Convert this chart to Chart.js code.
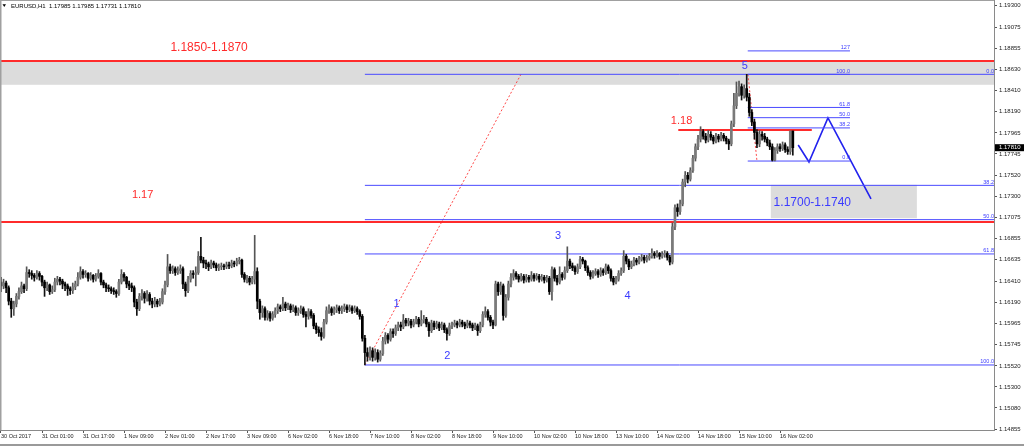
<!DOCTYPE html>
<html>
<head>
<meta charset="utf-8">
<script src="https://cdn.jsdelivr.net/npm/chart.js@4"></script>
<style>
html, body { margin: 0; padding: 0; background: #fff; overflow: hidden; }
#wrap { position: relative; width: 1024px; height: 446px; }
</style>
</head>
<body>
<div id="wrap"><canvas id="c"></canvas></div>
<script>
const symbol = 'EURUSD,H1';

const tickLabels = ['30 Oct 2017', '31 Oct 01:00', '31 Oct 17:00', '1 Nov 09:00', '2 Nov 01:00', '2 Nov 17:00',
    '3 Nov 09:00', '6 Nov 02:00', '6 Nov 18:00', '7 Nov 10:00', '8 Nov 02:00', '8 Nov 18:00', '9 Nov 10:00',
    '10 Nov 02:00', '10 Nov 18:00', '13 Nov 10:00', '14 Nov 02:00', '14 Nov 18:00', '15 Nov 10:00', '16 Nov 02:00'];

const priceTicks = [1.19300, 1.19075, 1.18855, 1.18630, 1.18410, 1.18190, 1.17965, 1.17745, 1.17520, 1.17300,
    1.17075, 1.16855, 1.16635, 1.16410, 1.16190, 1.15965, 1.15745, 1.15520, 1.15300, 1.15080, 1.14855];

// hourly candles, 30 Oct 09:00 .. 16 Nov 05:00
const opens = [
    1.1640, 1.1636, 1.1639, 1.1634, 1.1620, 1.1612, 1.1617, 1.1625, 1.1630, 1.1636,
    1.1633, 1.1650, 1.1649, 1.1647, 1.1645, 1.1649, 1.1646, 1.1640, 1.1634, 1.1637,
    1.1630, 1.1632, 1.1640, 1.1643, 1.1641, 1.1638, 1.1636, 1.1633, 1.1631, 1.1635,
    1.1638, 1.1645, 1.1651, 1.1648, 1.1649, 1.1644, 1.1647, 1.1643, 1.1646, 1.1649,
    1.1640, 1.1637, 1.1634, 1.1633, 1.1631, 1.1630, 1.1628, 1.1640, 1.1648, 1.1645,
    1.1638, 1.1636, 1.1634, 1.1619, 1.1612, 1.1625, 1.1628, 1.1623, 1.1627, 1.1620,
    1.1617, 1.1620, 1.1617, 1.1619, 1.1630, 1.1637, 1.1656, 1.1652, 1.1654, 1.1650,
    1.1652, 1.1654, 1.1638, 1.1631, 1.1643, 1.1649, 1.1648, 1.1650, 1.1667, 1.1663,
    1.1660, 1.1659, 1.1656, 1.1660, 1.1658, 1.1655, 1.1656, 1.1657, 1.1656, 1.1658,
    1.1657, 1.1660, 1.1659, 1.1662, 1.1663, 1.1648, 1.1643, 1.1644, 1.1640, 1.1643,
    1.1651, 1.1620, 1.1608, 1.1612, 1.1603, 1.1607, 1.1602, 1.1606, 1.1610, 1.1614,
    1.1612, 1.1617, 1.1613, 1.1615, 1.1611, 1.1613, 1.1608, 1.1610, 1.1612, 1.1606,
    1.1604, 1.1609, 1.1605, 1.1594, 1.1590, 1.1587, 1.1583, 1.1598, 1.1610, 1.1612,
    1.1608, 1.1611, 1.1613, 1.1610, 1.1612, 1.1614, 1.1611, 1.1613, 1.1610, 1.1612,
    1.1609, 1.1604, 1.1581, 1.1566, 1.1562, 1.1568, 1.1561, 1.1566, 1.1559, 1.1565,
    1.1578, 1.1584, 1.1580, 1.1588, 1.1586, 1.1592, 1.1595, 1.1593, 1.1600, 1.1597,
    1.1599, 1.1595, 1.1598, 1.1601, 1.1596, 1.1600, 1.1601, 1.1596, 1.1589, 1.1597,
    1.1593, 1.1596, 1.1592, 1.1595, 1.1590, 1.1586, 1.1594, 1.1595, 1.1597, 1.1595,
    1.1598, 1.1596, 1.1594, 1.1597, 1.1595, 1.1592, 1.1594, 1.1589, 1.1595, 1.1606,
    1.1609, 1.1603, 1.1598, 1.1595, 1.1638, 1.1630, 1.1636, 1.1605, 1.1624, 1.1638,
    1.1645, 1.1649, 1.1646, 1.1643, 1.1646, 1.1642, 1.1645, 1.1643, 1.1647, 1.1644,
    1.1646, 1.1643, 1.1645, 1.1642, 1.1644, 1.1630, 1.1653, 1.1644, 1.1640, 1.1648,
    1.1645, 1.1652, 1.1662, 1.1657, 1.1655, 1.1651, 1.1656, 1.1664, 1.1662, 1.1655,
    1.1650, 1.1646, 1.1649, 1.1651, 1.1648, 1.1652, 1.1650, 1.1656, 1.1652, 1.1644,
    1.1640, 1.1643, 1.1649, 1.1652, 1.1667, 1.1662, 1.1656, 1.1659, 1.1663, 1.1661,
    1.1664, 1.1666, 1.1663, 1.1665, 1.1667, 1.1670, 1.1668, 1.1670, 1.1667, 1.1669,
    1.1670, 1.1666, 1.1661, 1.1698, 1.1718, 1.1714, 1.1722, 1.1745, 1.1752, 1.1748,
    1.1757, 1.1770, 1.1782, 1.1790, 1.1798, 1.1793, 1.1789, 1.1795, 1.1792, 1.1788,
    1.1793, 1.1790, 1.1794, 1.1791, 1.1788, 1.1785, 1.1806, 1.1825, 1.1838, 1.1845,
    1.1836, 1.1843, 1.1834, 1.1818, 1.1808, 1.1797, 1.1785, 1.1795, 1.1793, 1.1790,
    1.1786, 1.1782, 1.1768, 1.1778, 1.1782, 1.1780, 1.1784, 1.1779, 1.1777, 1.17985
];
const highs = [
    1.1645, 1.1643, 1.1641, 1.1636, 1.1623, 1.1620, 1.1628, 1.1634, 1.1640, 1.1638,
    1.1656, 1.1653, 1.1652, 1.1649, 1.1652, 1.1651, 1.1647, 1.1642, 1.1640, 1.1638,
    1.1636, 1.1644, 1.1646, 1.1645, 1.1643, 1.1640, 1.1638, 1.1635, 1.1639, 1.1641,
    1.1650, 1.1656, 1.1653, 1.1652, 1.1650, 1.1650, 1.1648, 1.1649, 1.1653, 1.1650,
    1.1642, 1.1639, 1.1637, 1.1635, 1.1634, 1.1632, 1.1643, 1.1653, 1.1650, 1.1646,
    1.1641, 1.1639, 1.1636, 1.1622, 1.1628, 1.1632, 1.1630, 1.1631, 1.1629, 1.1623,
    1.1624, 1.1622, 1.1623, 1.1633, 1.1641, 1.1669, 1.1659, 1.1657, 1.1656, 1.1656,
    1.1658, 1.1656, 1.1640, 1.1646, 1.1652, 1.1652, 1.1656, 1.1672, 1.1687, 1.1666,
    1.1663, 1.1661, 1.1663, 1.1662, 1.1660, 1.1659, 1.1660, 1.1659, 1.1661, 1.1661,
    1.1663, 1.1662, 1.1665, 1.1666, 1.1664, 1.1650, 1.1647, 1.1646, 1.1646, 1.1689,
    1.1655, 1.1622, 1.1615, 1.1614, 1.1610, 1.1609, 1.1609, 1.1613, 1.1617, 1.1616,
    1.1624, 1.1619, 1.1618, 1.1617, 1.1616, 1.1615, 1.1613, 1.1615, 1.1614, 1.1609,
    1.1612, 1.1611, 1.1607, 1.1597, 1.1593, 1.1592, 1.1601, 1.1614, 1.1616, 1.1614,
    1.1614, 1.1616, 1.1615, 1.1615, 1.1617, 1.1616, 1.1616, 1.1615, 1.1615, 1.1614,
    1.1611, 1.1606, 1.1584, 1.1571, 1.1572, 1.1571, 1.1570, 1.1569, 1.1568, 1.1582,
    1.1587, 1.1586, 1.1591, 1.1591, 1.1595, 1.1598, 1.1598, 1.1606, 1.1602, 1.1602,
    1.1601, 1.1601, 1.1604, 1.1603, 1.1610, 1.1605, 1.1603, 1.1598, 1.1600, 1.1599,
    1.1599, 1.1598, 1.1598, 1.1597, 1.1592, 1.1597, 1.1598, 1.1600, 1.1599, 1.1601,
    1.1600, 1.1598, 1.1600, 1.1599, 1.1597, 1.1597, 1.1596, 1.1598, 1.1609, 1.1614,
    1.1611, 1.1605, 1.1600, 1.1641, 1.1640, 1.1640, 1.1638, 1.1627, 1.1641, 1.1649,
    1.1653, 1.1651, 1.1648, 1.1649, 1.1648, 1.1648, 1.1647, 1.1651, 1.1649, 1.1649,
    1.1648, 1.1648, 1.1647, 1.1647, 1.1646, 1.1656, 1.1655, 1.1647, 1.1656, 1.1650,
    1.1656, 1.1677, 1.1664, 1.1660, 1.1657, 1.1659, 1.1667, 1.1666, 1.1663, 1.1657,
    1.1652, 1.1652, 1.1654, 1.1653, 1.1655, 1.1654, 1.1659, 1.1658, 1.1654, 1.1646,
    1.1646, 1.1652, 1.1655, 1.1673, 1.1669, 1.1664, 1.1662, 1.1666, 1.1665, 1.1667,
    1.1669, 1.1668, 1.1668, 1.1670, 1.1675, 1.1672, 1.1673, 1.1671, 1.1672, 1.1673,
    1.1672, 1.1668, 1.1702, 1.1721, 1.1722, 1.1726, 1.1748, 1.1756, 1.1755, 1.1760,
    1.1773, 1.1785, 1.1794, 1.1803, 1.1800, 1.1796, 1.1799, 1.1798, 1.1794, 1.1796,
    1.1795, 1.1797, 1.1796, 1.1793, 1.1790, 1.1809, 1.1838, 1.1850, 1.1851, 1.1848,
    1.1847, 1.1858, 1.1838, 1.1821, 1.1811, 1.1800, 1.1799, 1.1798, 1.1796, 1.1792,
    1.1789, 1.1785, 1.1781, 1.1785, 1.1785, 1.1787, 1.1786, 1.1782, 1.17985, 1.17985
];
const lows = [
    1.1630, 1.1633, 1.1629, 1.1616, 1.1603, 1.1605, 1.1614, 1.1622, 1.1628, 1.1629,
    1.1631, 1.1645, 1.1643, 1.1641, 1.1643, 1.1642, 1.1636, 1.1625, 1.1631, 1.1627,
    1.1628, 1.1630, 1.1637, 1.1637, 1.1633, 1.1631, 1.1626, 1.1627, 1.1628, 1.1632,
    1.1636, 1.1643, 1.1644, 1.1645, 1.1641, 1.1642, 1.1640, 1.1641, 1.1644, 1.1637,
    1.1634, 1.1630, 1.1630, 1.1628, 1.1627, 1.1624, 1.1626, 1.1638, 1.1641, 1.1634,
    1.1632, 1.1630, 1.1614, 1.1605, 1.1610, 1.1621, 1.1618, 1.1620, 1.1616, 1.1613,
    1.1614, 1.1614, 1.1615, 1.1617, 1.1627, 1.1635, 1.1649, 1.1649, 1.1647, 1.1648,
    1.1649, 1.1633, 1.1625, 1.1629, 1.1640, 1.1644, 1.1636, 1.1648, 1.1660, 1.1655,
    1.1654, 1.1652, 1.1654, 1.1655, 1.1652, 1.1652, 1.1653, 1.1653, 1.1654, 1.1654,
    1.1655, 1.1656, 1.1657, 1.1659, 1.1645, 1.1640, 1.1639, 1.1637, 1.1638, 1.1638,
    1.1612, 1.1601, 1.1603, 1.1600, 1.1600, 1.1599, 1.1600, 1.1603, 1.1607, 1.1609,
    1.1610, 1.1610, 1.1611, 1.1608, 1.1609, 1.1605, 1.1605, 1.1607, 1.1603, 1.1593,
    1.1601, 1.1602, 1.1591, 1.1586, 1.1583, 1.1579, 1.1581, 1.1596, 1.1607, 1.1605,
    1.1606, 1.1608, 1.1607, 1.1607, 1.1609, 1.1608, 1.1609, 1.1607, 1.1608, 1.1606,
    1.1601, 1.1578, 1.1553, 1.1557, 1.1558, 1.1557, 1.1558, 1.1556, 1.1557, 1.1563,
    1.1575, 1.1576, 1.1578, 1.1582, 1.1584, 1.1589, 1.1589, 1.1591, 1.1594, 1.1594,
    1.1592, 1.1593, 1.1596, 1.1593, 1.1594, 1.1597, 1.1593, 1.1583, 1.1587, 1.1590,
    1.1591, 1.1589, 1.1590, 1.1587, 1.1579, 1.1584, 1.1591, 1.1593, 1.1592, 1.1593,
    1.1593, 1.1591, 1.1592, 1.1592, 1.1589, 1.1590, 1.1584, 1.1587, 1.1593, 1.1603,
    1.1600, 1.1594, 1.1591, 1.1594, 1.1626, 1.1627, 1.1600, 1.1603, 1.1621, 1.1635,
    1.1642, 1.1643, 1.1640, 1.1641, 1.1639, 1.1640, 1.1640, 1.1641, 1.1641, 1.1642,
    1.1640, 1.1641, 1.1639, 1.1640, 1.1627, 1.1621, 1.1641, 1.1637, 1.1638, 1.1642,
    1.1643, 1.1650, 1.1654, 1.1652, 1.1648, 1.1649, 1.1654, 1.1659, 1.1652, 1.1647,
    1.1643, 1.1644, 1.1647, 1.1645, 1.1646, 1.1647, 1.1648, 1.1649, 1.1641, 1.1637,
    1.1638, 1.1641, 1.1647, 1.1650, 1.1659, 1.1653, 1.1654, 1.1657, 1.1658, 1.1659,
    1.1662, 1.1660, 1.1661, 1.1663, 1.1665, 1.1665, 1.1666, 1.1664, 1.1665, 1.1666,
    1.1663, 1.1658, 1.1659, 1.1695, 1.1709, 1.1711, 1.1720, 1.1740, 1.1744, 1.1746,
    1.1755, 1.1767, 1.1779, 1.1787, 1.1790, 1.1786, 1.1787, 1.1789, 1.1785, 1.1786,
    1.1787, 1.1788, 1.1788, 1.1785, 1.1779, 1.1783, 1.1803, 1.1822, 1.1835, 1.1831,
    1.1833, 1.1830, 1.1814, 1.1804, 1.1790, 1.1781, 1.1782, 1.1789, 1.1787, 1.1783,
    1.1779, 1.1767, 1.1767, 1.1775, 1.1777, 1.1778, 1.1776, 1.1774, 1.1774, 1.17731
];
const closes = [
    1.1636, 1.1639, 1.1634, 1.1620, 1.1612, 1.1617, 1.1625, 1.1630, 1.1636, 1.1633,
    1.1650, 1.1649, 1.1647, 1.1645, 1.1649, 1.1646, 1.1640, 1.1634, 1.1637, 1.1630,
    1.1632, 1.1640, 1.1643, 1.1641, 1.1638, 1.1636, 1.1633, 1.1631, 1.1635, 1.1638,
    1.1645, 1.1651, 1.1648, 1.1649, 1.1644, 1.1647, 1.1643, 1.1646, 1.1649, 1.1640,
    1.1637, 1.1634, 1.1633, 1.1631, 1.1630, 1.1628, 1.1640, 1.1648, 1.1645, 1.1638,
    1.1636, 1.1634, 1.1619, 1.1612, 1.1625, 1.1628, 1.1623, 1.1627, 1.1620, 1.1617,
    1.1620, 1.1617, 1.1619, 1.1630, 1.1637, 1.1656, 1.1652, 1.1654, 1.1650, 1.1652,
    1.1654, 1.1638, 1.1631, 1.1643, 1.1649, 1.1648, 1.1650, 1.1667, 1.1663, 1.1660,
    1.1659, 1.1656, 1.1660, 1.1658, 1.1655, 1.1656, 1.1657, 1.1656, 1.1658, 1.1657,
    1.1660, 1.1659, 1.1662, 1.1663, 1.1648, 1.1643, 1.1644, 1.1640, 1.1643, 1.1651,
    1.1620, 1.1608, 1.1612, 1.1603, 1.1607, 1.1602, 1.1606, 1.1610, 1.1614, 1.1612,
    1.1617, 1.1613, 1.1615, 1.1611, 1.1613, 1.1608, 1.1610, 1.1612, 1.1606, 1.1604,
    1.1609, 1.1605, 1.1594, 1.1590, 1.1587, 1.1583, 1.1598, 1.1610, 1.1612, 1.1608,
    1.1611, 1.1613, 1.1610, 1.1612, 1.1614, 1.1611, 1.1613, 1.1610, 1.1612, 1.1609,
    1.1604, 1.1581, 1.1566, 1.1562, 1.1568, 1.1561, 1.1566, 1.1559, 1.1565, 1.1578,
    1.1584, 1.1580, 1.1588, 1.1586, 1.1592, 1.1595, 1.1593, 1.1600, 1.1597, 1.1599,
    1.1595, 1.1598, 1.1601, 1.1596, 1.1600, 1.1601, 1.1596, 1.1589, 1.1597, 1.1593,
    1.1596, 1.1592, 1.1595, 1.1590, 1.1586, 1.1594, 1.1595, 1.1597, 1.1595, 1.1598,
    1.1596, 1.1594, 1.1597, 1.1595, 1.1592, 1.1594, 1.1589, 1.1595, 1.1606, 1.1609,
    1.1603, 1.1598, 1.1595, 1.1638, 1.1630, 1.1636, 1.1605, 1.1624, 1.1638, 1.1645,
    1.1649, 1.1646, 1.1643, 1.1646, 1.1642, 1.1645, 1.1643, 1.1647, 1.1644, 1.1646,
    1.1643, 1.1645, 1.1642, 1.1644, 1.1630, 1.1653, 1.1644, 1.1640, 1.1648, 1.1645,
    1.1652, 1.1662, 1.1657, 1.1655, 1.1651, 1.1656, 1.1664, 1.1662, 1.1655, 1.1650,
    1.1646, 1.1649, 1.1651, 1.1648, 1.1652, 1.1650, 1.1656, 1.1652, 1.1644, 1.1640,
    1.1643, 1.1649, 1.1652, 1.1667, 1.1662, 1.1656, 1.1659, 1.1663, 1.1661, 1.1664,
    1.1666, 1.1663, 1.1665, 1.1667, 1.1670, 1.1668, 1.1670, 1.1667, 1.1669, 1.1670,
    1.1666, 1.1661, 1.1698, 1.1718, 1.1714, 1.1722, 1.1745, 1.1752, 1.1748, 1.1757,
    1.1770, 1.1782, 1.1790, 1.1798, 1.1793, 1.1789, 1.1795, 1.1792, 1.1788, 1.1793,
    1.1790, 1.1794, 1.1791, 1.1788, 1.1785, 1.1806, 1.1825, 1.1838, 1.1845, 1.1836,
    1.1843, 1.1834, 1.1818, 1.1808, 1.1797, 1.1785, 1.1795, 1.1793, 1.1790, 1.1786,
    1.1782, 1.1768, 1.1778, 1.1782, 1.1780, 1.1784, 1.1779, 1.1777, 1.17985, 1.17810
];

// drawn objects (bar index / price)
const redLevels = [1.1872, 1.1703];
const level118 = 1.17996;
const level118Bars = [264.3, 316.4];
const zoneBars = [[null, null], [300.4, 357.4]];
const zonePrices = [[1.1847, 1.1871], [1.1707, 1.1742]];
const bigFibSwing = [1.1858, 1.1553];          // 0.0 at high, 100 at low
const bigFibBars = [142, null];
const bigFibRatios = [0, 38.2, 50, 61.8, 100];
const smallFibSwing = [1.1767, 1.1858];        // 0.0 at low, 100 at high
const smallFibBars = [291.4, 331.3];
const smallFibRatios = [0, 38.2, 50, 61.8, 100, 127];
const trendBig = [[142, 1.1553], [202.9, 1.1858]];
const trendSmall = [[291.5, 1.1858], [295.0, 1.1767]];
const projBars = [311.1, 315.3, 322.7, 339.5];
const projPrices = [1.17838, 1.17660, 1.18122, 1.17272];
const waveLabels = ['1', '2', '3', '4', '5'];

const X_MIN = -0.39, X_MAX = 387.5;
const Y_MIN = 1.148477, Y_MAX = 1.193598;
const RED = '#ff2b2b', BLUE = '#3a3aff';

const idx = closes.map((c, i) => i);
const up = idx.map(i => closes[i] >= opens[i]);

function seg(pts, color, width, dash) {
    return {
        type: 'line', data: pts.map(p => ({x: p[0], y: p[1]})),
        borderColor: color, borderWidth: width, borderDash: dash || [],
        pointRadius: 0, fill: false, tension: 0, order: 3
    };
}

const datasets = [
    {
        type: 'bar', data: idx.map(i => ({x: i, y: [opens[i], closes[i]]})),
        backgroundColor: idx.map(i => up[i] ? '#7a7a7a' : '#000000'),
        barThickness: 2, grouped: false, borderWidth: 0, order: 0
    },
    {
        type: 'bar', data: idx.map(i => ({x: i, y: [lows[i], highs[i]]})),
        backgroundColor: idx.map(i => up[i] ? '#555555' : '#111111'),
        barThickness: 1, grouped: false, borderWidth: 0, order: 1
    }
];
redLevels.forEach(p => datasets.push(seg([[X_MIN, p], [X_MAX, p]], RED, 2)));
datasets.push(seg([[level118Bars[0], level118], [level118Bars[1], level118]], RED, 2));
const bigRange = bigFibSwing[0] - bigFibSwing[1];
bigFibRatios.forEach(r => {
    const p = bigFibSwing[0] - r / 100 * bigRange;
    datasets.push(seg([[bigFibBars[0], p], [X_MAX, p]], '#4a4aff', 1));
});
const smallRange = smallFibSwing[1] - smallFibSwing[0];
smallFibRatios.forEach(r => {
    const p = smallFibSwing[0] + r / 100 * smallRange;
    datasets.push(seg([[smallFibBars[0], p], [smallFibBars[1], p]], '#4a4aff', 1));
});
datasets.push(seg(trendBig, '#ff4a4a', 1, [2, 2]));
datasets.push(seg(trendSmall, '#ff4a4a', 1, [2, 2]));
datasets.push(seg(projBars.map((b, i) => [b, projPrices[i]]), '#2222ee', 1.6));

const overlay = {
    id: 'overlay',
    beforeDatasetsDraw(chart) {
        const {ctx, chartArea: a, scales: {x, y}} = chart;
        ctx.save();
        ctx.fillStyle = '#dcdcdc';
        zoneBars.forEach((b, k) => {
            const x0 = b[0] == null ? a.left : x.getPixelForValue(b[0]);
            const x1 = b[1] == null ? a.right : x.getPixelForValue(b[1]);
            const y0 = y.getPixelForValue(zonePrices[k][1]);
            const y1 = y.getPixelForValue(zonePrices[k][0]);
            ctx.fillRect(x0, y0, x1 - x0, y1 - y0);
        });
        ctx.restore();
    },
    afterDraw(chart) {
        const {ctx, chartArea: a, scales: {x, y}} = chart;
        ctx.save();
        // frame
        ctx.fillStyle = '#a0a0a0';
        ctx.fillRect(0, 0, a.right, 1);
        ctx.fillRect(0, 0, 1.5, a.bottom);
        ctx.fillStyle = '#9a9a9a';
        ctx.fillRect(0, 444, 1024, 2);

        const text = (t, bx, py, color, size, align) => {
            ctx.font = size + 'px "Liberation Sans", Arial, sans-serif';
            ctx.fillStyle = color;
            ctx.textAlign = align || 'left';
            ctx.textBaseline = 'alphabetic';
            ctx.fillText(t, x.getPixelForValue(bx), y.getPixelForValue(py));
        };
        text('1.1850-1.1870', 66.1, 1.18828, RED, 12);
        text('1.17', 51.1, 1.17279, RED, 11);
        text('1.18', 261.4, 1.18056, RED, 11);
        text('1.1700-1.1740', 301.5, 1.17198, BLUE, 12);
        const wavePos = [[154.4, 1.16135], [174.2, 1.15590], [217.4, 1.16852], [244.5, 1.16222], [290.3, 1.18631]];
        waveLabels.forEach((t, i) => text(t, wavePos[i][0], wavePos[i][1], BLUE, 11, 'center'));

        // fibo level captions
        const fibText = (r) => r === 127 ? '127' : r.toFixed(1);
        ctx.font = '5.5px "Liberation Sans", Arial, sans-serif';
        ctx.fillStyle = '#3c3cff';
        ctx.textAlign = 'right';
        ctx.textBaseline = 'bottom';
        bigFibRatios.forEach(r => {
            const p = bigFibSwing[0] - r / 100 * bigRange;
            ctx.fillText(fibText(r), a.right, y.getPixelForValue(p) - 0.5);
        });
        smallFibRatios.forEach(r => {
            const p = smallFibSwing[0] + r / 100 * smallRange;
            ctx.fillText(fibText(r), x.getPixelForValue(smallFibBars[1]), y.getPixelForValue(p) - 0.5);
        });

        // current price tag
        const last = closes.length - 1;
        const py = y.getPixelForValue(closes[last]);
        ctx.fillStyle = '#000';
        ctx.fillRect(a.right + 1, py - 3.5, 1024 - a.right - 1, 7);
        ctx.font = '6px "Liberation Sans", Arial, sans-serif';
        ctx.fillStyle = '#fff';
        ctx.textAlign = 'left';
        ctx.textBaseline = 'middle';
        ctx.fillText(closes[last].toFixed(5), a.right + 5, py);

        // header
        ctx.fillStyle = '#000';
        ctx.beginPath();
        ctx.moveTo(2.5, 4.3); ctx.lineTo(6, 4.3); ctx.lineTo(4.25, 6.9); ctx.closePath();
        ctx.fill();
        ctx.font = '6px "Liberation Sans", Arial, sans-serif';
        ctx.textBaseline = 'alphabetic';
        const hdr = [opens[last], highs[last], lows[last], closes[last]].map(v => v.toFixed(5)).join(' ');
        ctx.fillText(symbol + '  ' + hdr, 11, 8.2);
        ctx.restore();
    }
};

const noPad = s => {
    s.paddingTop = 0; s.paddingBottom = 0; s.paddingLeft = 0; s.paddingRight = 0;
};

new Chart(document.getElementById('c'), {
    type: 'bar',
    data: {datasets},
    options: {
        responsive: true,
        maintainAspectRatio: false,
        animation: false,
        devicePixelRatio: 1,
        events: [],
        layout: {padding: 0, autoPadding: false},
        plugins: {legend: {display: false}, tooltip: {enabled: false}},
        scales: {
            x: {
                type: 'linear', position: 'bottom', min: X_MIN, max: X_MAX, offset: false,
                afterBuildTicks: axis => { axis.ticks = tickLabels.map((t, i) => ({value: i * 16})); },
                afterFit: s => { s.height = 16; noPad(s); },
                ticks: {
                    callback: v => tickLabels[Math.round(v / 16)],
                    autoSkip: false, maxRotation: 0, align: 'start', padding: 0,
                    color: '#1a1a1a', font: {family: '"Liberation Sans", Arial', size: 5.5}
                },
                grid: {drawOnChartArea: false, offset: false, tickLength: 3, color: '#555'},
                border: {color: '#8a8a8a'}
            },
            y: {
                type: 'linear', position: 'right', min: Y_MIN, max: Y_MAX,
                afterBuildTicks: axis => { axis.ticks = priceTicks.map(v => ({value: v})); },
                afterFit: s => { s.width = 30; noPad(s); },
                ticks: {
                    callback: v => v.toFixed(5),
                    autoSkip: false, padding: 2,
                    color: '#1a1a1a', font: {family: '"Liberation Sans", Arial', size: 6}
                },
                grid: {drawOnChartArea: false, tickLength: 3, color: '#555'},
                border: {color: '#8a8a8a'}
            }
        }
    },
    plugins: [overlay]
});
</script>
</body>
</html>
